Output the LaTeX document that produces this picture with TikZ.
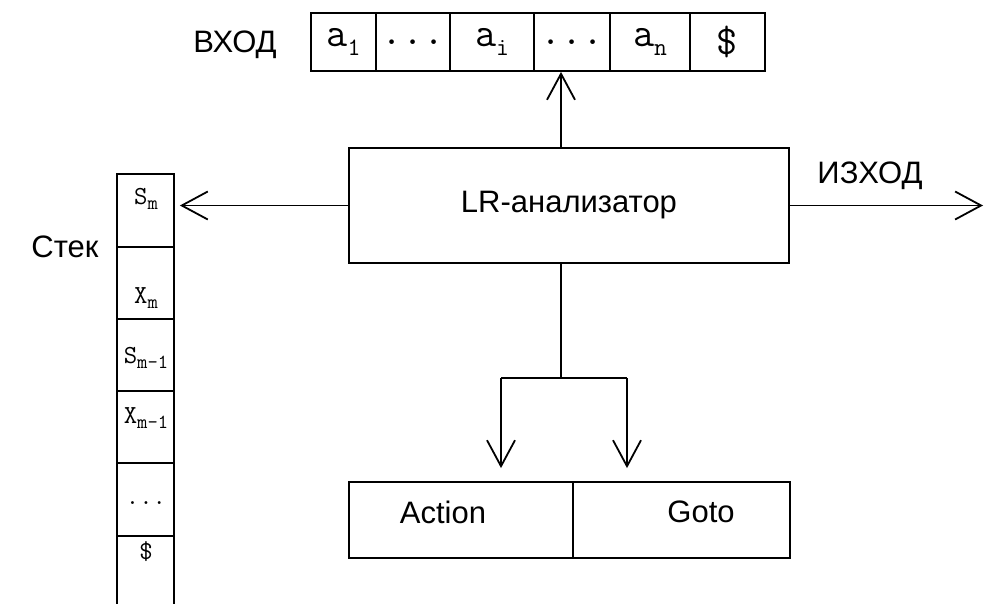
\documentclass[tikz,border=0pt]{standalone}
\usepackage{fontspec}
\setmainfont{Liberation Sans}
\usetikzlibrary{arrows.meta,calc}
% lowered index with an explicit size
\newcommand{\ssub}[2]{\raisebox{-0.2em}{\fontsize{#1}{#1}\selectfont #2}}

\begin{document}
\begin{tikzpicture}[x=1pt,y=-1pt,
  ln/.style={line width=1.8pt},
  boxed/.style={draw, ln, inner sep=0pt},
  tapecell/.style={boxed, minimum height=58pt, font=\ttfamily\fontsize{41}{44}\selectfont},
  stackcell/.style={boxed, minimum width=57pt},
  stacklbl/.style={inner sep=0pt, font=\ttfamily\fontsize{26}{28}\selectfont},
  lbl/.style={inner sep=0pt, font=\fontsize{31}{36}\selectfont},
  arr/.style={ln, -{Straight Barb[length=26pt,width=28pt,line width=1.8pt]}}]

\clip (0,0) rectangle (984,603);

% input tape
\node[tapecell, minimum width=65pt] (c1) at (343.5,42) {a\ssub{25}{1}};
\node[tapecell, minimum width=74pt] (c2) at (413,42) {...};
\node[tapecell, minimum width=84pt] (c3) at (492,42) {a\ssub{25}{i}};
\node[tapecell, minimum width=76pt] (c4) at (572,42) {...};
\node[tapecell, minimum width=80pt] (c5) at (650,42) {a\ssub{25}{n}};
\node[tapecell, minimum width=75pt] (c6) at (727.5,42) {\$};
\node[lbl] (inlbl) at (235,45) {ВХОД};

% parser
\node[boxed, minimum width=440pt, minimum height=115pt, font=\fontsize{31}{36}\selectfont] (lr) at (569,205.5) {LR-анализатор};
\node[lbl] (outlbl) at (870,176) {ИЗХОД};

% stack
\node[stackcell, minimum height=73pt] (s1) at (145.5,210.5) {};
\node[stackcell, minimum height=72pt] (s2) at (145.5,283) {};
\node[stackcell, minimum height=72pt] (s3) at (145.5,355) {};
\node[stackcell, minimum height=72pt] (s4) at (145.5,427) {};
\node[stackcell, minimum height=73pt] (s5) at (145.5,499.5) {};
\node[stackcell, minimum height=90pt] (s6) at (145.5,581) {};
\node[stacklbl] (l1) at (146,199) {S\ssub{20}{m}};
\node[stacklbl] (l2) at (146,298) {X\ssub{20}{m}};
\node[stacklbl] (l3) at (146,358) {S\ssub{20}{m-1}};
\node[stacklbl] (l4) at (146,418) {X\ssub{20}{m-1}};
\node[stacklbl] (l5) at (146,503) {...};
\node[stacklbl] (l6) at (146,552) {\$};
\node[lbl] (stlbl) at (65,247) {Стек};

% tables
\node[boxed, minimum width=224pt, minimum height=76pt] (act) at (461,520) {};
\node[boxed, minimum width=217pt, minimum height=76pt] (gto) at (681.5,520) {};
\node[lbl] (actlbl) at (443,512) {Action};
\node[lbl] (gtolbl) at (701,512) {Goto};

% connectors
\coordinate (up) at (561,148);
\coordinate (fork) at (561,378);
\coordinate (fl) at (501,378);
\coordinate (fr) at (627,378);
\coordinate (out) at (983,205.5);
\draw[arr] (up) -- (up |- c4.south);
\draw[arr, shorten >=5pt] (lr.west) -- (lr.west -| s1.east);
\draw[arr] (lr.east) -- (out);
\draw[ln] (lr.south -| fork) -- (fork);
\draw[ln] (fl) -- (fr);
\draw[arr, shorten >=13pt] (fl) -- (fl |- act.north);
\draw[arr, shorten >=13pt] (fr) -- (fr |- gto.north);
\end{tikzpicture}
\end{document}
